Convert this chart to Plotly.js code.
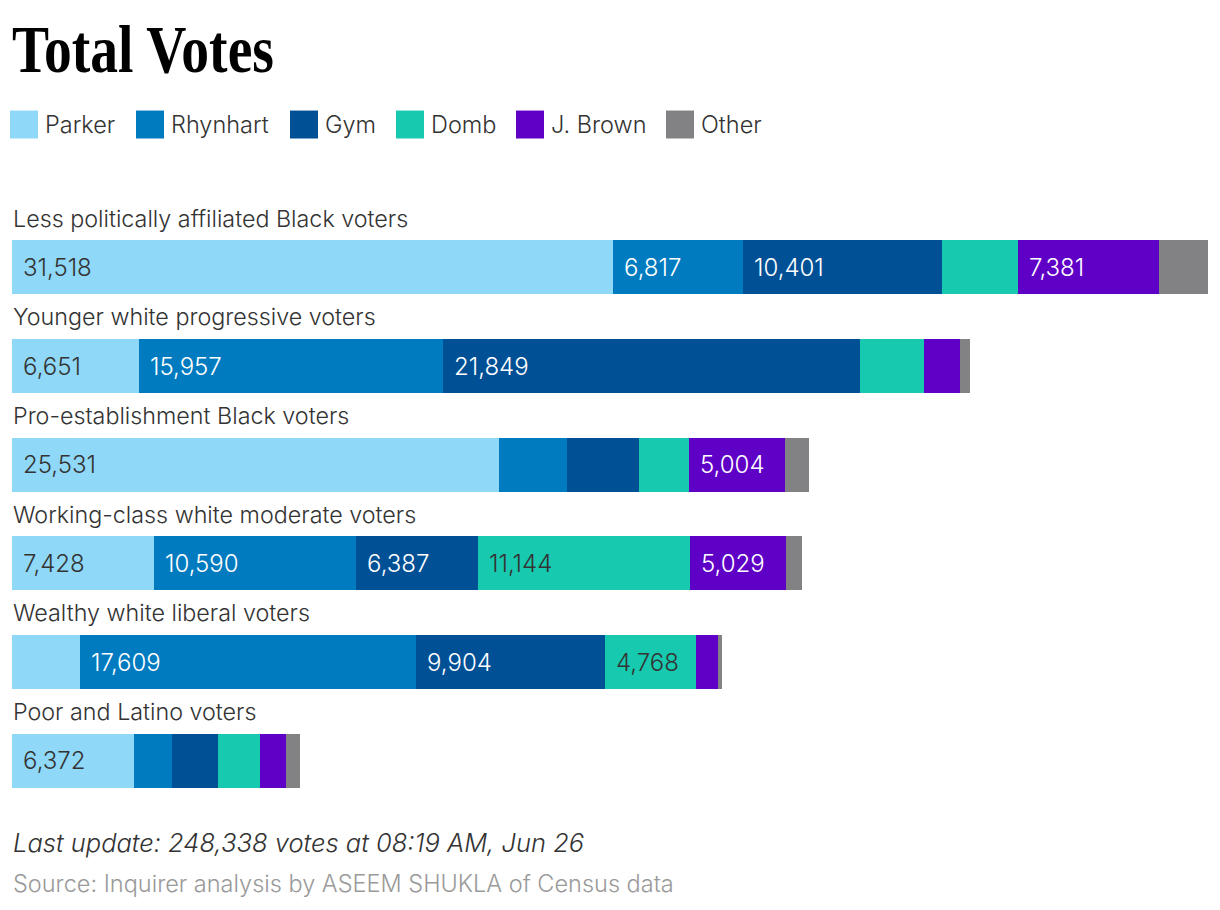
<!DOCTYPE html>
<html>
<head>
<meta charset="utf-8">
<script src="https://cdn.plot.ly/plotly-3.0.1.min.js"></script>
<style>
html,body{margin:0;padding:0;background:#fff;}
#chart{width:1220px;height:910px;}
</style>
</head>
<body>
<div id="chart"></div>
<script>
// ---- data ----
const categories = [
  "Less politically affiliated Black voters",
  "Younger white progressive voters",
  "Pro-establishment Black voters",
  "Working-class white moderate voters",
  "Wealthy white liberal voters",
  "Poor and Latino voters"
];
const seriesNames = ["Parker", "Rhynhart", "Gym", "Domb", "J. Brown", "Other"];
const parker   = [31518,  6651, 25531,  7428,  3565, 6372];
const rhynhart = [ 6817, 15957,  3565, 10590, 17609, 2018];
const gym      = [10401, 21849,  3775,  6387,  9904, 2412];
const domb     = [ 4010,  3355,  2621, 11144,  4768, 2202];
const jbrown   = [ 7381,  1887,  5004,  5029,  1153, 1363];
const other    = [ 2570,   524,  1284,   840,   210,  734];
const titleText = "Total Votes";
const updateText = "Last update: 248,338 votes at 08:19 AM, Jun 26";
const sourceText = "Source: Inquirer analysis by ASEEM SHUKLA of Census data";

// ---- styling ----
const colors = ["#8fd8f7", "#007bc0", "#005096", "#17c9af", "#5f00c7", "#828284"];
const labelColors = ["#333333", "#ffffff", "#ffffff", "#333333", "#ffffff", "#ffffff"];
const FONT = "Inter, 'Noto Sans', sans-serif";
const seriesValues = [parker, rhynhart, gym, domb, jbrown, other];
const rows = categories.map((_, i) => i);

const W = 1220, H = 910;
const mL = 12, mR = 12, mT = 217.6, mB = 99.6;
const plotW = W - mL - mR, plotH = H - mT - mB;
const px2x = p => (p - mL) / plotW;
const py2y = p => (H - mB - p) / plotH;

const totals = rows.map(i => seriesValues.reduce((s, arr) => s + arr[i], 0));
const xmax = Math.max(...totals);

const traces = seriesNames.map((name, k) => ({
  type: "bar",
  orientation: "h",
  name: name,
  y: rows,
  x: seriesValues[k],
  marker: {color: colors[k], line: {width: 0}},
  hoverinfo: "none",
  showlegend: false
}));

const annotations = [];
// category labels above each bar
categories.forEach((c, i) => {
  annotations.push({
    xref: "x", yref: "y", x: 0, y: i - 0.5,
    xanchor: "left", yanchor: "middle", xshift: -1,
    text: c, showarrow: false,
    font: {family: FONT, size: 23.3, weight: 300, color: "#333333"}
  });
});
// value labels inside segments
rows.forEach(i => {
  let base = 0;
  seriesValues.forEach((arr, k) => {
    const v = arr[i];
    if (v >= 4500) {
      annotations.push({
        xref: "x", yref: "y", x: base, y: i,
        xanchor: "left", yanchor: "middle", xshift: 9,
        text: v.toLocaleString("en-US"), showarrow: false,
        font: {family: FONT, size: 24, weight: 300, color: labelColors[k]}
      });
    }
    base += v;
  });
});
// manual legend
const legendX = [10, 136, 290, 396, 516, 666];
const shapes = [];
seriesNames.forEach((n, k) => {
  shapes.push({
    type: "rect", xref: "paper", yref: "paper",
    x0: px2x(legendX[k]), x1: px2x(legendX[k] + 28),
    y0: py2y(138), y1: py2y(110),
    fillcolor: colors[k], line: {width: 0}
  });
  annotations.push({
    xref: "paper", yref: "paper",
    x: px2x(legendX[k] + 33), y: py2y(124),
    xanchor: "left", yanchor: "middle",
    text: n, showarrow: false,
    font: {family: FONT, size: 23.5, weight: 300, color: "#333333"}
  });
});
// footer
annotations.push({
  xref: "paper", yref: "paper", x: px2x(11), y: py2y(843),
  xanchor: "left", yanchor: "middle", text: updateText, showarrow: false,
  font: {family: FONT, size: 25.5, weight: 300, style: "italic", color: "#333333"}
});
annotations.push({
  xref: "paper", yref: "paper", x: px2x(11), y: py2y(884),
  xanchor: "left", yanchor: "middle", text: sourceText, showarrow: false,
  font: {family: FONT, size: 23.5, weight: 300, color: "#9a9a9a"}
});

const layout = {
  width: W, height: H,
  margin: {l: mL, r: mR, t: mT, b: mB, pad: 0},
  paper_bgcolor: "#ffffff", plot_bgcolor: "#ffffff",
  barmode: "stack",
  bargap: 0.4534,
  title: {
    text: "<b>" + titleText + "</b>",
    xref: "container", yref: "container",
    x: 12 / W, xanchor: "left",
    y: 1 - 48 / H, yanchor: "middle",
    font: {family: "'Liberation Serif', serif", size: 68, color: "#000000"}
  },
  xaxis: {range: [0, xmax], showgrid: false, zeroline: false, showticklabels: false, ticks: "", fixedrange: true},
  yaxis: {range: [5.5, -0.5], showgrid: false, zeroline: false, showticklabels: false, ticks: "", fixedrange: true},
  annotations: annotations,
  shapes: shapes,
  showlegend: false
};

Plotly.newPlot("chart", traces, layout, {displayModeBar: false, staticPlot: true}).then(gd => {
  // condense the title horizontally to mimic the narrow display face
  const t = gd.querySelector(".gtitle");
  if (t) {
    const bb = t.getBBox();
    const target = 262;
    const sx = target / bb.width;
    const x0 = bb.x;
    t.setAttribute("transform", `translate(${x0},0) scale(${sx},1) translate(${-x0},0)`);
  }
});
</script>
</body>
</html>
